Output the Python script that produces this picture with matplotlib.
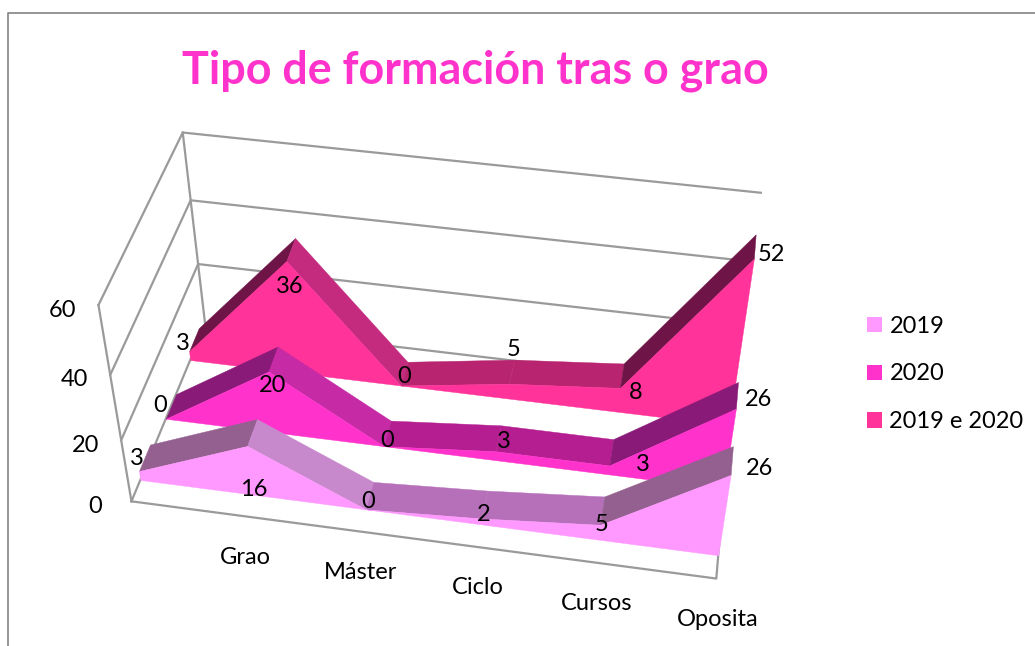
import matplotlib
matplotlib.use('Agg')
import matplotlib.pyplot as plt
from matplotlib.lines import Line2D
from matplotlib.patches import Patch
from mpl_toolkits.mplot3d import proj3d
from mpl_toolkits.mplot3d.art3d import Poly3DCollection

plt.rcParams['font.family'] = ['Lato', 'DejaVu Sans']

# first point has no category label in the original
categories = ['', 'Grao', 'Máster', 'Ciclo', 'Cursos', 'Oposita']
v2019 = [3, 16, 0, 2, 5, 26]
v2020 = [0, 20, 0, 3, 3, 26]
v2019e2020 = [3, 36, 0, 5, 8, 52]
series_names = ['2019', '2020', '2019 e 2020']
yticks = [0, 20, 40, 60]

face_colors = ['#FF99FF', '#FF33CC', '#FF3399']
up_colors = ['#94608F', '#8A1A78', '#6E1446']
down_colors = ['#C888CC', '#C62AA5', '#C42A7E']
flat_colors = ['#B670BA', '#B41E90', '#B8246F']
depth_slots = [(0.11, 0.25), (0.44, 0.58), (0.78, 0.92)]

# data label nudges in pixels, one list per series
label_dx = [[-2, 7, 2, 2, 2, 29], [-6, 4, 4, 9, 34, 23], [-6, 3, 3, 5, 16, 18]]
label_dy = [[13, -44, 8, 4, 0, 6], [13, -14, 6, 10, 1, 9], [8, -25, 9, 34, -5, 4]]

grid = '#9a9a9a'

fig = plt.figure(figsize=(10.35, 6.46), dpi=100)
# big square axes so nothing clips, centred on the middle of the 3d box
ax = fig.add_axes([(427 - 550) / 1035, (282 - 550) / 646, 1100 / 1035, 1100 / 646], projection='3d',
                  computed_zorder=False)
ax.set_proj_type('persp', focal_length=0.303)
ax.set_box_aspect((597, 280, 265), zoom=0.62)
ax.view_init(elev=42, azim=-80, roll=0)
ax.set_xlim(0, 5, view_margin=0)
ax.set_ylim(0, 1, view_margin=0)
ax.set_zlim(0, 60, view_margin=0)
ax.set_axis_off()
M = ax.get_proj()


def put_label(txt, x, y, z, dx, dy, size=17):
    px, py, _ = proj3d.proj_transform(x, y, z, M)
    ax.annotate(txt, (px, py), xytext=(dx, dy), textcoords='offset pixels', fontsize=size,
                ha='center', va='center', color='black', zorder=30)


# walls
for v in yticks:
    ax.plot([0, 0, 5], [0, 1, 1], [v, v, v], color=grid, lw=1.6, zorder=1)
ax.plot([0, 0], [0, 0], [0, 60], color=grid, lw=1.6, zorder=1)
ax.plot([0, 0], [1, 1], [0, 60], color=grid, lw=1.6, zorder=1)
ax.plot([0, 5, 5], [0, 0, 1], [0, 0, 0], color=grid, lw=1.6, zorder=1)

all_series = [v2019, v2020, v2019e2020]
xs = list(range(len(categories)))
for k in [2, 1, 0]:
    vals = all_series[k]
    y0, y1 = depth_slots[k]
    z = 10 + (2 - k) * 5
    for i in range(len(vals) - 1):
        d = vals[i + 1] - vals[i]
        c = flat_colors[k] if abs(d) < 6 else (up_colors[k] if d > 0 else down_colors[k])
        quad = [(xs[i], y0, vals[i]), (xs[i + 1], y0, vals[i + 1]),
                (xs[i + 1], y1, vals[i + 1]), (xs[i], y1, vals[i])]
        ax.add_collection3d(Poly3DCollection([quad], facecolors=c, edgecolors=c, lw=0.3, zorder=z))
    front = [(x, y0, v) for x, v in zip(xs, vals)] + [(xs[-1], y0, 0), (xs[0], y0, 0)]
    ax.add_collection3d(Poly3DCollection([front], facecolors=face_colors[k], edgecolors=face_colors[k],
                                         lw=0.3, zorder=z + 1))
    for i, v in enumerate(vals):
        put_label(str(v), xs[i], y0, v, label_dx[k][i], label_dy[k][i])

for v in yticks:
    put_label(str(v), 0, 0, v, -36, -5)
for x, name in zip(xs, categories):
    put_label(name, x, 0, 0, 1, -41)

fig.text(475 / 1035, 1 - 71 / 646, 'Tipo de formación tras o grao', fontsize=32.3, fontweight='bold',
         color='#FF33CC', ha='center', va='center')

handles = [Patch(facecolor=c, edgecolor='none') for c in face_colors]
fig.legend(handles, series_names, loc='center left', bbox_to_anchor=(846 / 1035, 1 - 374 / 646),
           frameon=False, fontsize=17, handlelength=0.62, handleheight=0.62, handletextpad=0.32,
           labelspacing=1.13)

fig.add_artist(Line2D([8 / 1035, 8 / 1035, 1], [0, 1 - 13 / 646, 1 - 13 / 646], color='#8c8c8c', lw=1.3))

fig.savefig('out.png', dpi=100)
